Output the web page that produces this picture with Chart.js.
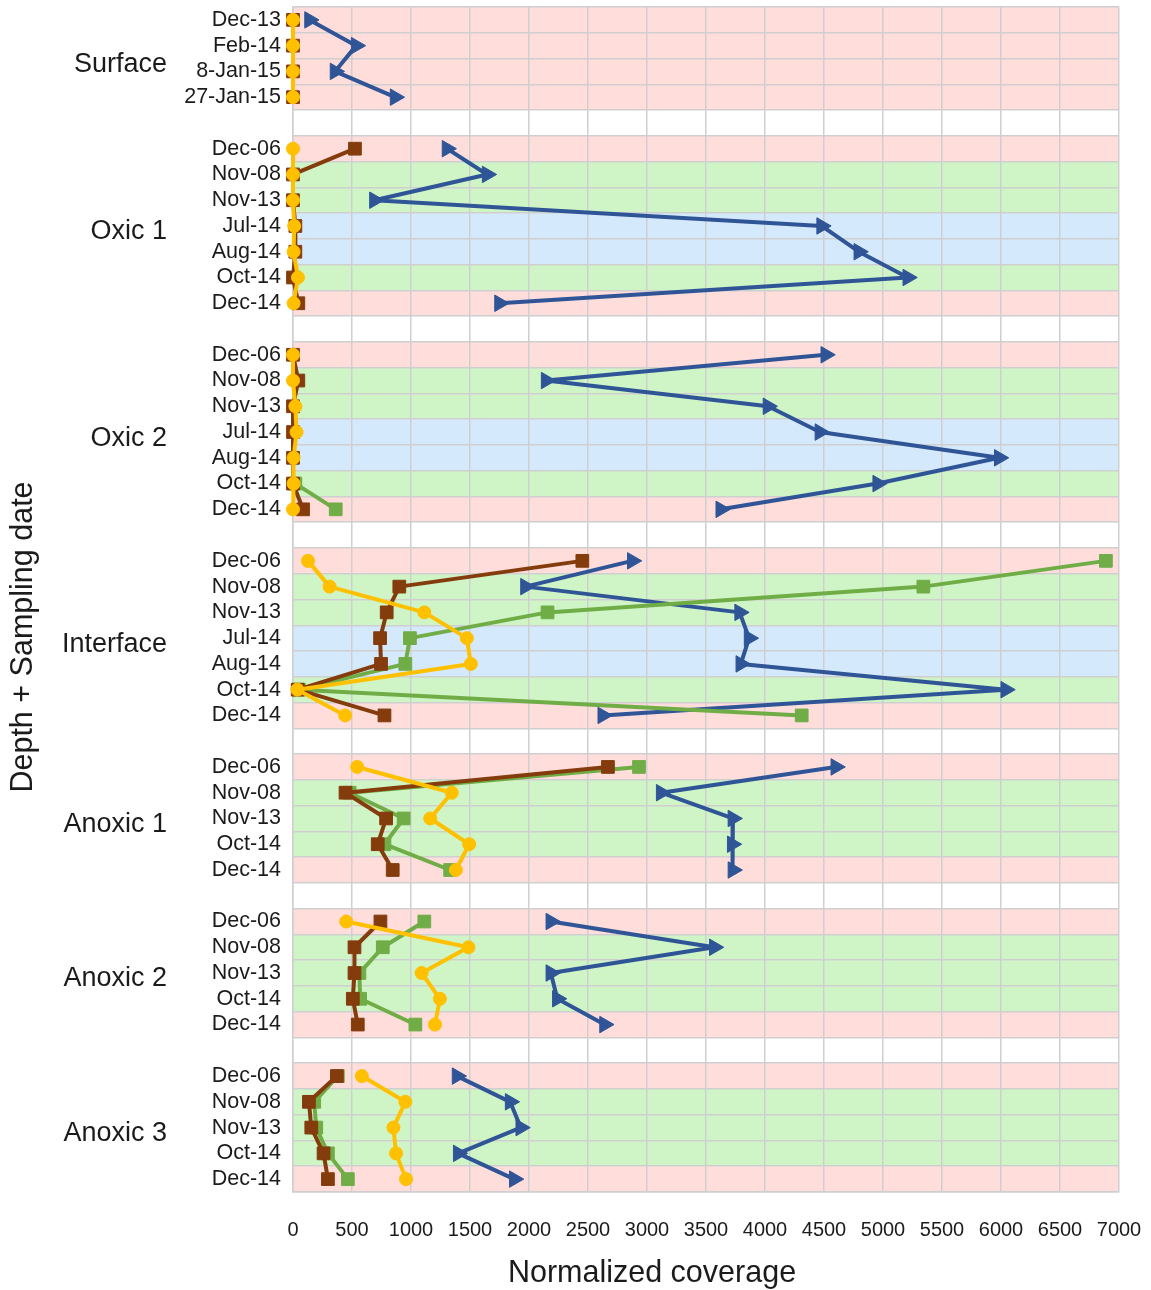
<!DOCTYPE html>
<html>
<head>
<meta charset="utf-8">
<title>Normalized coverage by depth and sampling date</title>
<script src="https://cdn.jsdelivr.net/npm/chart.js@4/dist/chart.umd.min.js"></script>
<style>
  html, body { margin: 0; padding: 0; background: #ffffff; }
  #wrap { width: 1151px; height: 1290px; position: relative; }
</style>
</head>
<body>
<div id="wrap"><canvas id="chart" width="1151" height="1290"></canvas></div>
<script>
// Depth layers and their sampling dates (one row per date, blank row between layers)
const groupNames = ['Surface', 'Oxic 1', 'Oxic 2', 'Interface', 'Anoxic 1', 'Anoxic 2', 'Anoxic 3'];
const groupDates = [
  ['Dec-13', 'Feb-14', '8-Jan-15', '27-Jan-15'],
  ['Dec-06', 'Nov-08', 'Nov-13', 'Jul-14', 'Aug-14', 'Oct-14', 'Dec-14'],
  ['Dec-06', 'Nov-08', 'Nov-13', 'Jul-14', 'Aug-14', 'Oct-14', 'Dec-14'],
  ['Dec-06', 'Nov-08', 'Nov-13', 'Jul-14', 'Aug-14', 'Oct-14', 'Dec-14'],
  ['Dec-06', 'Nov-08', 'Nov-13', 'Oct-14', 'Dec-14'],
  ['Dec-06', 'Nov-08', 'Nov-13', 'Oct-14', 'Dec-14'],
  ['Dec-06', 'Nov-08', 'Nov-13', 'Oct-14', 'Dec-14']
];

// Normalized coverage per layer, same order as groupDates (null = not measured)
const blueValues = [
  [140, 535, 356, 865],
  [1305, 1645, 690, 4480, 4795, 5210, 1750],
  [4515, 2145, 4025, 4465, 5985, 4955, 3625],
  [2875, 1970, 3785, 3865, 3795, 6040, 2625],
  [4600, 3120, 3728, 3722, 3728],
  [2185, 3570, 2185, 2240, 2640],
  [1390, 1840, 1930, 1400, 1875]
];
const brownValues = [
  [0, 0, 0, 0],
  [525, 0, 0, 20, 20, 0, 45],
  [0, 45, 0, 0, 0, 0, 85],
  [2452, 901, 794, 738, 746, 40, 775],
  [2669, 445, 789, 718, 845],
  [741, 521, 521, 507, 549],
  [372, 135, 155, 259, 296]
];
const greenValues = [
  [null, null, null, null],
  [null, null, null, null, null, null, null],
  [null, null, null, null, null, 20, 362],
  [6889, 5342, 2157, 991, 952, 50, 4311],
  [2932, 480, 938, 775, 1332],
  [1113, 761, 563, 569, 1037],
  [380, 180, 197, 296, 465]
];
const yellowValues = [
  [0, 0, 0, 0],
  [0, 0, 0, 10, 5, 42, 5],
  [0, 0, 20, 30, 5, 5, 0],
  [127, 310, 1113, 1473, 1507, 37, 442],
  [544, 1346, 1163, 1493, 1380],
  [451, 1487, 1090, 1245, 1203],
  [583, 952, 851, 873, 958]
];

const xTicks = [0, 500, 1000, 1500, 2000, 2500, 3000, 3500, 4000, 4500, 5000, 5500, 6000, 6500, 7000];

// Row background by season of the sampling month
const seasonColors = {
  winter: 'rgb(255, 221, 219)',
  autumn: 'rgb(207, 245, 199)',
  summer: 'rgb(213, 233, 252)'
};
const monthSeason = {
  Dec: 'winter', Jan: 'winter', Feb: 'winter',
  Jul: 'summer', Aug: 'summer',
  Oct: 'autumn', Nov: 'autumn'
};

// Flatten the layers into one category axis with blank separator rows
const rowLabels = [];
const groupRows = [];
groupDates.forEach((dates, g) => {
  if (g > 0) rowLabels.push('');
  const first = rowLabels.length;
  dates.forEach(d => rowLabels.push(d));
  groupRows.push([first, rowLabels.length - 1]);
});
function flatten(series) {
  const out = [];
  series.forEach((vals, g) => {
    if (g > 0) out.push(null);
    vals.forEach(v => out.push(v));
  });
  return out;
}
function seasonOf(label) {
  const m = label.match(/(Jan|Feb|Mar|Apr|May|Jun|Jul|Aug|Sep|Oct|Nov|Dec)/);
  return m ? monthSeason[m[1]] : null;
}

const TEXT = '#1b1b1b';
const FONT = "'Liberation Sans', Arial, Helvetica, sans-serif";
const GRID = '#cfcfcf';

const bandsPlugin = {
  id: 'seasonBands',
  beforeDraw(chart) {
    const { ctx, chartArea, scales } = chart;
    const y = scales.y;
    const h = (y.bottom - y.top) / rowLabels.length;
    ctx.save();
    rowLabels.forEach((lab, i) => {
      const s = seasonOf(lab);
      if (!s) return;
      const cy = y.getPixelForValue(i);
      ctx.fillStyle = seasonColors[s];
      ctx.fillRect(chartArea.left, cy - h / 2, chartArea.right - chartArea.left, h);
    });
    ctx.restore();
  }
};

const textPlugin = {
  id: 'layerText',
  afterDraw(chart) {
    const { ctx, scales } = chart;
    const y = scales.y;
    ctx.save();
    ctx.fillStyle = TEXT;
    // layer names
    ctx.font = '27px ' + FONT;
    ctx.textAlign = 'right';
    ctx.textBaseline = 'middle';
    groupNames.forEach((name, g) => {
      const [a, b] = groupRows[g];
      const cy = (y.getPixelForValue(a) + y.getPixelForValue(b)) / 2 + 6;
      ctx.fillText(name, 167, cy);
    });
    // axis titles
    ctx.font = '30.5px ' + FONT;
    ctx.textAlign = 'center';
    ctx.fillText('Normalized coverage', 652, 1274);
    ctx.translate(24, 637);
    ctx.rotate(-Math.PI / 2);
    ctx.fillText('Depth + Sampling date', 0, 0);
    ctx.restore();
  }
};

function lineSet(label, values, color, style, radius, order, rotation) {
  return {
    label,
    data: flatten(values),
    borderColor: color,
    backgroundColor: color,
    borderWidth: 4,
    borderJoinStyle: 'round',
    borderCapStyle: 'round',
    pointStyle: style,
    pointRadius: radius,
    pointHoverRadius: radius,
    pointBackgroundColor: color,
    pointBorderColor: color,
    pointBorderWidth: 1,
    pointRotation: rotation || 0,
    tension: 0,
    spanGaps: false,
    clip: false,
    order
  };
}

new Chart(document.getElementById('chart'), {
  type: 'line',
  data: {
    labels: rowLabels,
    datasets: [
      lineSet('Yellow', yellowValues, '#FFC000', 'circle', 6.5, 1),
      lineSet('Brown', brownValues, '#843C0C', 'rect', 9, 2),
      lineSet('Green', greenValues, '#70AD47', 'rect', 9, 3),
      lineSet('Blue', blueValues, '#2F5597', 'triangle', 9.5, 4, 90)
    ]
  },
  options: {
    indexAxis: 'y',
    responsive: false,
    animation: false,
    devicePixelRatio: 1,
    layout: { autoPadding: false, padding: { top: 7, right: 32, bottom: 0, left: 0 } },
    plugins: {
      legend: { display: false },
      tooltip: { enabled: false }
    },
    scales: {
      x: {
        type: 'linear',
        position: 'bottom',
        min: 0,
        max: 7000,
        afterBuildTicks(scale) { scale.ticks = xTicks.map(v => ({ value: v })); },
        afterFit(scale) {
          scale.height = 98;
          scale.paddingLeft = 0;
          scale.paddingRight = 0;
        },
        grid: { color: GRID, lineWidth: 1.5, drawTicks: false },
        border: { display: true, color: GRID, width: 1.5 },
        ticks: {
          padding: 26,
          color: TEXT,
          font: { family: FONT, size: 20 },
          maxRotation: 0,
          autoSkip: false,
          callback: v => String(v)
        }
      },
      y: {
        type: 'category',
        position: 'left',
        offset: true,
        afterFit(scale) {
          scale.width = 293;
          scale.paddingTop = 0;
          scale.paddingBottom = 0;
        },
        grid: { offset: true, color: GRID, lineWidth: 1.5, drawTicks: false },
        border: { display: true, color: GRID, width: 1.5 },
        ticks: {
          padding: 12,
          color: TEXT,
          font: { family: FONT, size: 21.5 },
          autoSkip: false
        }
      }
    }
  },
  plugins: [bandsPlugin, textPlugin]
});
</script>
</body>
</html>
